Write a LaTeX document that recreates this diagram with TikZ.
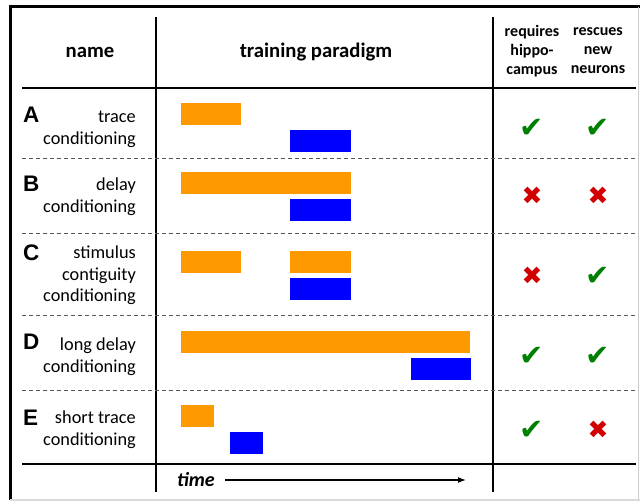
\documentclass[tikz,border=0pt]{standalone}
\usepackage{fontspec}
\setmainfont{Carlito}
\newfontfamily\letterfont{Liberation Sans}
\newfontfamily\symfont{DejaVu Sans}
\usetikzlibrary{arrows.meta}
\definecolor{barorange}{RGB}{255,153,0}
\definecolor{barblue}{RGB}{0,0,255}
\definecolor{okgreen}{RGB}{0,128,0}
\definecolor{nored}{RGB}{210,0,0}
\definecolor{dashgray}{RGB}{90,90,90}
\tikzset{
  bar/.style={rectangle, inner sep=0pt, anchor=north west},
  cs/.style={bar, fill=barorange, minimum height=22pt},
  us/.style={bar, fill=barblue, minimum height=22pt},
  rule/.style={line width=2.2pt},
  vrule/.style={line width=1.8pt},
  sep/.style={dashgray, line width=1pt, dash pattern=on 4pt off 3pt},
  hdr/.style={font=\fontsize{20.7}{24}\selectfont\bfseries, inner sep=0pt},
  subhdr/.style={font=\fontsize{16}{19}\selectfont\bfseries, align=center, inner sep=0pt},
  rowname/.style={font=\fontsize{18.3}{21.7}\selectfont, align=right, anchor=east, inner sep=0pt},
  letter/.style={font=\letterfont\fontsize{22.5}{22.5}\selectfont\bfseries, anchor=west, inner sep=0pt},
  yes/.style={font=\symfont\fontsize{29}{29}\selectfont, text=okgreen, inner sep=0pt},
  no/.style={font=\symfont\fontsize{25}{25}\selectfont, text=nored, inner sep=0pt},
}
\begin{document}
\begin{tikzpicture}[x=1pt,y=-1pt]
\useasboundingbox (0,0) rectangle (640,502);
% outer frame
\draw[line width=3pt] (10,500) -- (10,7) -- (640,7);
\draw[gray!40, line width=1pt] (638,7) -- (638,500);
\draw[gray!30, line width=1.5pt] (10,500) -- (640,500);
% grid
\draw[rule] (22,88) -- (636,88);
\draw[rule] (22,464) -- (636,464);
\draw[vrule] (156,17) -- (156,492);
\draw[vrule] (493,17) -- (493,492);
\foreach \y in {159,234,316,391} \draw[sep] (22,\y) -- (636,\y);
% headers
\node[hdr] (hname) at (90,52) {name};
\node[hdr] (hpar) at (316,52) {training paradigm};
\node[subhdr] (hreq) at (532,51) {requires\\hippo-\\campus};
\node[subhdr] (hres) at (598,51) {rescues\\new\\neurons};
% row A
\node[letter] (la) at (23,114.5) {A};
\node[rowname] (na) at (136,129) {trace\\conditioning};
\node[cs, minimum width=60pt] (a1) at (181,103) {};
\node[us, minimum width=61pt] (a2) at (290,130) {};
\node[yes] (ma1) at (532,128) {✔};
\node[yes] (ma2) at (598,128) {✔};
% row B
\node[letter] (lb) at (23,184) {B};
\node[rowname] (nb) at (136,197) {delay\\conditioning};
\node[cs, minimum width=170pt] (b1) at (181,172) {};
\node[us, minimum width=61pt] (b2) at (290,199) {};
\node[no] (mb1) at (532,196) {✖};
\node[no] (mb2) at (598,196) {✖};
% row C
\node[letter] (lc) at (23,253) {C};
\node[rowname] (nc) at (136,275.5) {stimulus\\contiguity\\conditioning};
\node[cs, minimum width=60pt] (c1) at (181,251) {};
\node[cs, minimum width=61pt] (c2) at (290,251) {};
\node[us, minimum width=61pt] (c3) at (290,278) {};
\node[no] (mc1) at (532,276) {✖};
\node[yes] (mc2) at (598,276) {✔};
% row D
\node[letter] (ld) at (23,342) {D};
\node[rowname] (nd) at (136,356.5) {long delay\\conditioning};
\node[cs, minimum width=289pt] (d1) at (181,331) {};
\node[us, minimum width=60pt] (d2) at (411,358) {};
\node[yes] (md1) at (532,356) {✔};
\node[yes] (md2) at (598,356) {✔};
% row E
\node[letter] (le) at (23,417.5) {E};
\node[rowname] (ne) at (136,430) {short trace\\conditioning};
\node[cs, minimum width=33pt] (e1) at (181,405) {};
\node[us, minimum width=33pt] (e2) at (230,432) {};
\node[yes] (me1) at (532,430) {✔};
\node[no] (me2) at (598,430) {✖};
% time axis
\node[hdr, font=\fontsize{20}{24}\selectfont\bfseries\itshape] (time) at (196,480) {time};
\coordinate (tend) at (466,480);
\draw[line width=1.3pt, -{Latex[length=8pt,width=6pt]}] ([xshift=10pt]time.east) -- (tend);
\end{tikzpicture}
\end{document}
